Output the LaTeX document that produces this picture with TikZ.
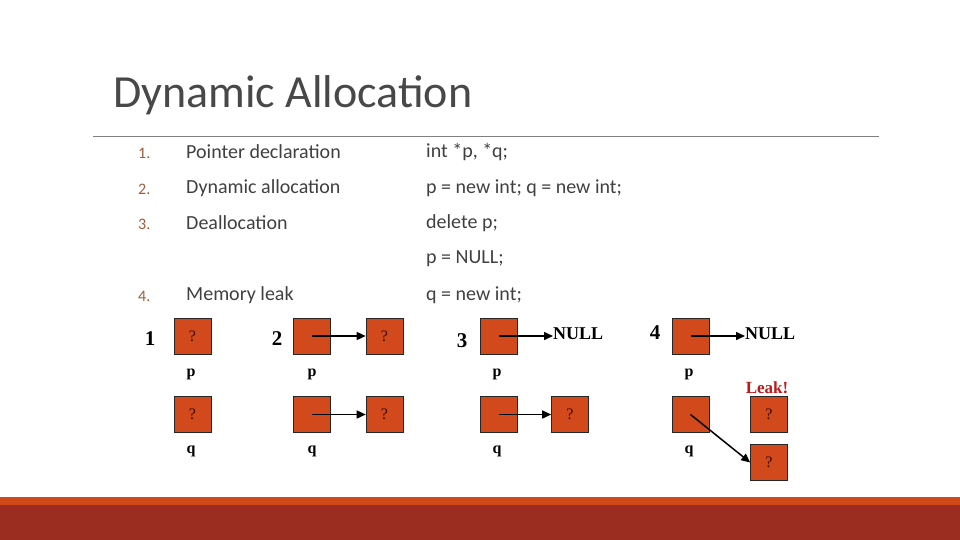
\documentclass[tikz,border=0pt]{standalone}
\usepackage{fontspec}
\setmainfont{Carlito}
\newfontfamily\cellfont{Liberation Serif}
\usetikzlibrary{arrows.meta}

\definecolor{cellfill}{RGB}{210,74,28}
\definecolor{bandorange}{RGB}{208,74,26}
\definecolor{banddark}{RGB}{155,45,32}
\definecolor{textgray}{RGB}{64,64,64}
\definecolor{titlegray}{RGB}{72,72,72}
\definecolor{numbrown}{RGB}{160,92,60}
\definecolor{qmark}{RGB}{55,8,4}
\definecolor{leakred}{RGB}{190,25,25}

\begin{document}
\begin{tikzpicture}[x=1pt, y=-1pt,
    title/.style={font=\fontsize{46}{46}\selectfont, text=titlegray, anchor=west, inner sep=0pt},
    num/.style={font=\fontsize{16}{16}\selectfont, text=numbrown, anchor=west, inner sep=0pt},
    item/.style={font=\fontsize{20}{20}\selectfont, text=textgray, anchor=west, inner sep=0pt},
    cell/.style={draw=black!85, fill=cellfill, line width=0.6pt,
                 minimum width=37pt, minimum height=36pt, inner sep=0pt,
                 font=\cellfont\fontsize{16}{16}\selectfont, text=qmark},
    stepnum/.style={font=\cellfont\bfseries\fontsize{21}{21}\selectfont, anchor=base, inner sep=0pt},
    var/.style={font=\cellfont\bfseries\fontsize{16}{16}\selectfont, anchor=base, inner sep=0pt},
    nullval/.style={font=\cellfont\bfseries\fontsize{18}{18}\selectfont, anchor=west, inner sep=0pt},
    ptr/.style={-{Triangle[length=9pt, width=8pt]}, line width=1.5pt, black},
]
\useasboundingbox (0,0) rectangle (960,540);

% title and list
\node[title] (head) at (113,95) {Dynamic Allocation};
\draw[gray, line width=0.8pt] (93,136) -- (879,136);

\node[num]  (n1) at (138,153) {1.};
\node[item] (d1) at (186,152) {Pointer declaration};
\node[item] (c1) at (426,152) {int *p, *q;};
\node[num]  (n2) at (138,189) {2.};
\node[item] (d2) at (186,188) {Dynamic allocation};
\node[item] (c2) at (426,188) {p = new int; q = new int;};
\node[num]  (n3) at (138,224) {3.};
\node[item] (d3) at (186,223) {Deallocation};
\node[item] (c3) at (426,223) {delete p;};
\node[item] (c3b) at (426,259) {p = NULL;};
\node[num]  (n4) at (138,296) {4.};
\node[item] (d4) at (186,295) {Memory leak};
\node[item] (c4) at (426,295) {q = new int;};

% step 1
\node[stepnum] (s1) at (150,345) {1};
\node[cell] (p1) at (192.5,336) {?};
\node[cell] (q1) at (192.5,414.5) {?};
\node[var] at (191,376) {p};
\node[var] at (191,453) {q};

% step 2
\node[stepnum] (s2) at (277,345) {2};
\node[cell] (p2) at (312,336) {};
\node[cell] (p2t) at (384.5,336) {?};
\node[cell] (q2) at (312,414.5) {};
\node[cell] (q2t) at (384.5,414.5) {?};
\node[var] at (312,376) {p};
\node[var] at (312,453) {q};
\draw[ptr] (p2.center) -- (p2t.west);
\draw[ptr] (q2.center) -- (q2t.west);

% step 3
\node[stepnum] (s3) at (462,347) {3};
\node[cell] (p3) at (498.5,336) {};
\node[nullval] (null3) at (553,334) {NULL};
\node[cell] (q3) at (498.5,414.5) {};
\node[cell] (q3t) at (570,414.5) {?};
\node[var] at (497,376) {p};
\node[var] at (497,453) {q};
\draw[ptr] (p3.center) -- (p3.center -| null3.west);
\draw[ptr] (q3.center) -- (q3t.west);

% step 4
\node[stepnum] (s4) at (655,339) {4};
\node[cell] (p4) at (690.5,336) {};
\node[nullval] (null4) at (745,334) {NULL};
\node[cell] (q4) at (690.5,414.5) {};
\node[cell] (old4) at (769,414.5) {?};
\node[cell] (new4) at (769,462.5) {?};
\node[var] at (689,376) {p};
\node[var] at (689,453) {q};
\node[font=\cellfont\bfseries\fontsize{17}{17}\selectfont, text=leakred, anchor=base, inner sep=0pt] (leak) at (767,393) {Leak!};
\draw[ptr] (p4.center) -- (p4.center -| null4.west);
\draw[ptr] (q4.center) -- (new4.west);

% footer bands
\fill[bandorange] (0,497) rectangle (960,505);
\fill[banddark] (0,505) rectangle (960,540);
\end{tikzpicture}
\end{document}
